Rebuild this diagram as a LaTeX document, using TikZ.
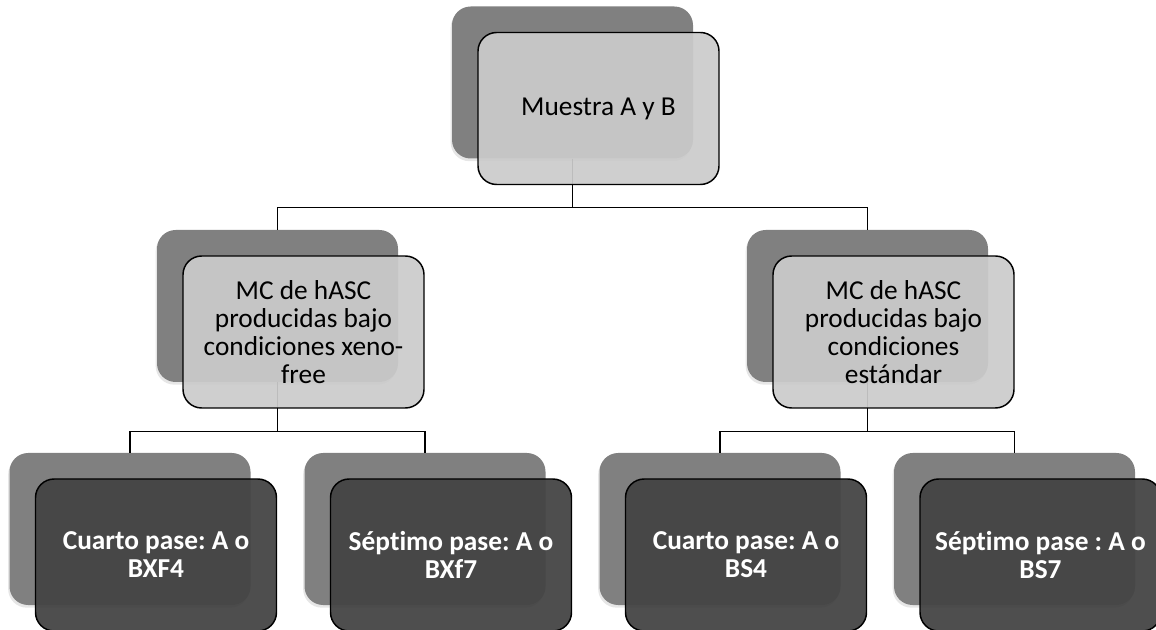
\documentclass[tikz,border=0pt]{standalone}
\usepackage{fontspec}
\setmainfont{Carlito}[Ligatures=NoCommon]
\usepackage{tikz}
\usetikzlibrary{shadows}
\frenchspacing
\definecolor{backgray}{HTML}{808080}
\definecolor{lightgray}{HTML}{CBCBCB}
\definecolor{darkgray}{HTML}{444444}
\tikzstyle{back} = [rectangle, rounded corners=14pt, minimum width=180.75pt, minimum height=114pt, fill=backgray, drop shadow={shadow xshift=-1pt, shadow yshift=-2pt, opacity=0.2}]
\tikzstyle{light} = [rectangle, rounded corners=14pt, minimum width=180.75pt, minimum height=114pt, draw=black, line width=1.1pt, fill=lightgray, fill opacity=0.93, text opacity=1, align=center, font=\fontsize{20.5}{21}\selectfont]
\tikzstyle{dark} = [light, fill=darkgray, fill opacity=0.95, text=white, font=\fontsize{20.5}{21}\selectfont\bfseries]
\tikzstyle{line} = [line width=1pt, black]

\begin{document}
\begin{tikzpicture}[x=0.75pt,y=-0.75pt]
            \useasboundingbox (0,0) rectangle (1156,630);
            % back boxes
            \node(sampleb)[back] at (572.5,82.5) {};
            \node(xenob)[back] at (277.5,306) {};
            \node(stdb)[back] at (867.5,306) {};
            \node(xfourb)[back] at (130,529) {};
            \node(xsevenb)[back] at (425,529) {};
            \node(sfourb)[back] at (720,529) {};
            \node(ssevenb)[back] at (1014.5,529) {};
            % connectors
            \draw[line](sampleb.south)--++(0,49)-|(xenob.north);
            \draw[line](sampleb.south)--++(0,49)-|(stdb.north);
            \draw[line](xenob.south)--++(0,49)-|(xfourb.north);
            \draw[line](xenob.south)--++(0,49)-|(xsevenb.north);
            \draw[line](stdb.south)--++(0,49)-|(sfourb.north);
            \draw[line](stdb.south)--++(0,49)-|(ssevenb.north);
            % front boxes
            \node(sample)[light] at ([shift={(26,26)}]sampleb.center) {Muestra A y B};
            \node(xeno)[light] at ([shift={(26,26)}]xenob.center) {MC de hASC\\producidas bajo\\condiciones xeno-\\free};
            \node(std)[light] at ([shift={(26,26)}]stdb.center) {MC de hASC\\producidas bajo\\condiciones\\estándar};
            \node(xfour)[dark] at ([shift={(26,26)}]xfourb.center) {Cuarto pase: A o\\BXF4};
            \node(xseven)[dark] at ([shift={(26,26)}]xsevenb.center) {Séptimo pase: A o\\BXf7};
            \node(sfour)[dark] at ([shift={(26,26)}]sfourb.center) {Cuarto pase: A o\\BS4};
            \node(sseven)[dark] at ([shift={(26,26)}]ssevenb.center) {Séptimo pase : A o\\BS7};
\end{tikzpicture}
\end{document}
